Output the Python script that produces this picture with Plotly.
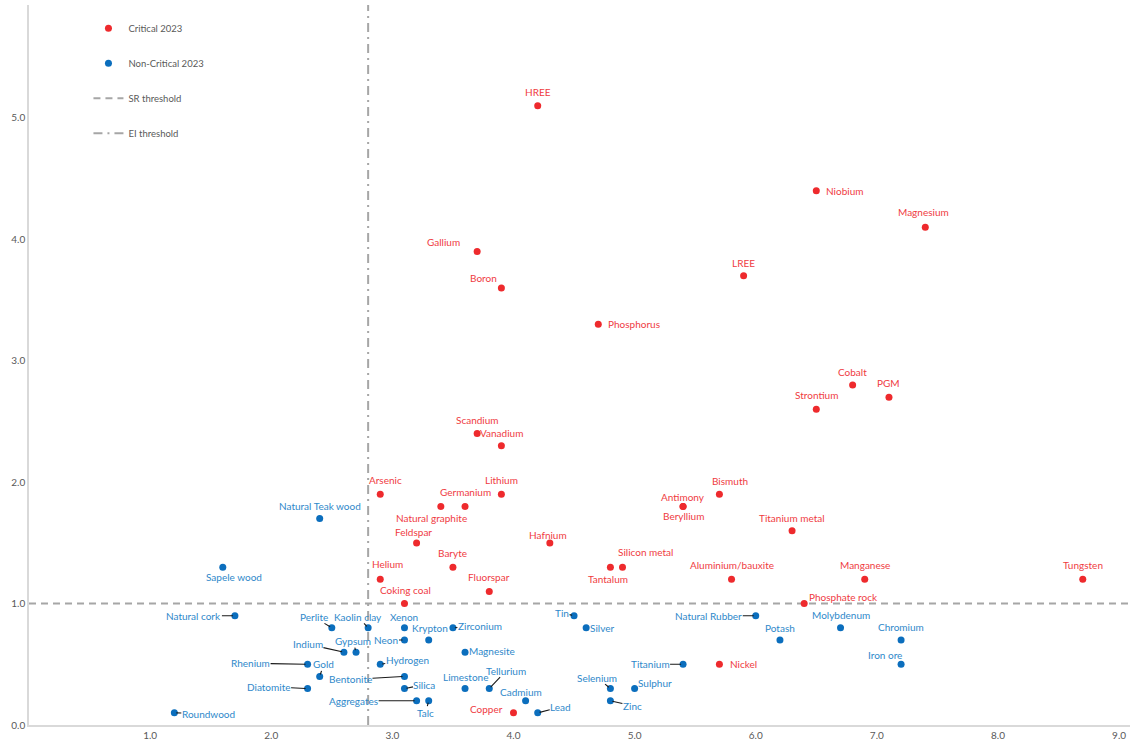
import plotly.graph_objects as go

# ---------------- data ----------------
crit_names = ["HREE", "Niobium", "Magnesium", "Gallium", "LREE", "Boron", "Phosphorus",
              "Cobalt", "PGM", "Strontium", "Scandium", "Vanadium", "Arsenic", "Lithium",
              "Germanium", "Natural graphite", "Bismuth", "Antimony", "Beryllium",
              "Titanium metal", "Feldspar", "Hafnium", "Baryte", "Silicon metal", "Tantalum",
              "Helium", "Aluminium/bauxite", "Manganese", "Tungsten", "Fluorspar",
              "Coking coal", "Phosphate rock", "Nickel", "Copper"]
crit_ei = [4.2, 6.5, 7.4, 3.7, 5.9, 3.9, 4.7,
           6.8, 7.1, 6.5, 3.7, 3.9, 2.9, 3.9,
           3.6, 3.4, 5.7, 5.4, 5.4,
           6.3, 3.2, 4.3, 3.5, 4.9, 4.8,
           2.9, 5.8, 6.9, 8.7, 3.8,
           3.1, 6.4, 5.7, 4.0]
crit_sr = [5.1, 4.4, 4.1, 3.9, 3.7, 3.6, 3.3,
           2.8, 2.7, 2.6, 2.4, 2.3, 1.9, 1.9,
           1.8, 1.8, 1.9, 1.8, 1.8,
           1.6, 1.5, 1.5, 1.3, 1.3, 1.3,
           1.2, 1.2, 1.2, 1.2, 1.1,
           1.0, 1.0, 0.5, 0.1]

non_names = ["Natural Teak wood", "Sapele wood", "Natural cork", "Perlite", "Kaolin clay",
             "Xenon", "Krypton", "Zirconium", "Neon", "Gypsum", "Indium", "Magnesite",
             "Rhenium", "Gold", "Hydrogen", "Bentonite", "Silica", "Diatomite", "Limestone",
             "Tellurium", "Aggregates", "Talc", "Cadmium", "Lead", "Roundwood", "Tin",
             "Silver", "Natural Rubber", "Potash", "Molybdenum", "Chromium", "Iron ore",
             "Titanium", "Selenium", "Sulphur", "Zinc"]
non_ei = [2.4, 1.6, 1.7, 2.5, 2.8,
          3.1, 3.3, 3.5, 3.1, 2.7, 2.6, 3.6,
          2.3, 2.4, 2.9, 3.1, 3.1, 2.3, 3.6,
          3.8, 3.2, 3.3, 4.1, 4.2, 1.2, 4.5,
          4.6, 6.0, 6.2, 6.7, 7.2, 7.2,
          5.4, 4.8, 5.0, 4.8]
non_sr = [1.7, 1.3, 0.9, 0.8, 0.8,
          0.8, 0.7, 0.8, 0.7, 0.6, 0.6, 0.6,
          0.5, 0.4, 0.5, 0.4, 0.3, 0.3, 0.3,
          0.3, 0.2, 0.2, 0.2, 0.1, 0.1, 0.9,
          0.8, 0.9, 0.7, 0.8, 0.7, 0.5,
          0.5, 0.3, 0.3, 0.2]

sr_threshold = 1.0
ei_threshold = 2.8
x_range = [0, 9.09]
y_range = [0, 5.93]
x_ticks = [1, 2, 3, 4, 5, 6, 7, 8, 9]
y_ticks = [0, 1, 2, 3, 4, 5]

# ---------------- label placement (screen px offsets, leader flag) ----------------
label_pos = {
    "HREE": (0, -14, False), "Niobium": (28, 0, False), "Magnesium": (-2, -15, False),
    "Gallium": (-34, -9, False), "LREE": (0, -13, False), "Boron": (-18, -10, False),
    "Phosphorus": (36, 0, False), "Cobalt": (0, -13, False), "PGM": (0, -14, False),
    "Strontium": (0, -14, False), "Scandium": (0, -14, False), "Vanadium": (0, -13, False),
    "Arsenic": (5, -14, False), "Lithium": (0, -14, False), "Germanium": (0, -14, False),
    "Natural graphite": (-9, 12, False), "Bismuth": (11, -13, False),
    "Antimony": (0, -9, False), "Beryllium": (0, 10, False),
    "Titanium metal": (0, -13, False), "Feldspar": (-3, -11, False),
    "Hafnium": (-2, -8, False), "Baryte": (0, -14, False), "Silicon metal": (23, -15, False),
    "Tantalum": (-2, 12, False), "Helium": (7, -15, False),
    "Aluminium/bauxite": (0, -14, False), "Manganese": (0, -14, False),
    "Tungsten": (0, -14, False), "Fluorspar": (0, -14, False), "Coking coal": (1, -14, False),
    "Phosphate rock": (39, -7, False), "Nickel": (24, 0, False), "Copper": (-27, -4, False),
    "Natural Teak wood": (0, -13, False), "Sapele wood": (11, 10, False),
    "Natural cork": (-41, 0, True), "Perlite": (-18, -11, True), "Kaolin clay": (-10, -11, True),
    "Xenon": (0, -11, False), "Krypton": (1, -12, False), "Zirconium": (27, -2, True),
    "Neon": (-18, 0, True), "Gypsum": (-3, -11, True), "Indium": (-36, -8, True),
    "Magnesite": (27, -1, False), "Rhenium": (-57, -1, True), "Gold": (4, -12, True),
    "Hydrogen": (27, -4, True), "Bentonite": (-54, 3, True), "Silica": (20, -4, True),
    "Diatomite": (-39, -2, True), "Limestone": (0, -12, False), "Tellurium": (17, -18, True),
    "Aggregates": (-63, 0, True), "Talc": (-3, 12, True), "Cadmium": (-5, -9, False),
    "Lead": (23, -6, True), "Roundwood": (34, 1, True), "Tin": (-12, -3, True),
    "Silver": (16, 0, False), "Natural Rubber": (-47, 0, True), "Potash": (0, -12, False),
    "Molybdenum": (0, -13, False), "Chromium": (0, -13, False), "Iron ore": (-16, -9, False),
    "Titanium": (-33, 0, True), "Selenium": (-13, -11, True), "Sulphur": (20, -6, False),
    "Zinc": (22, 5, True),
}

RED = "#EE2A2D"
RED_TXT = "#EF3B3F"
BLUE = "#0B6EBD"
BLUE_TXT = "#2E88CA"
GREY = "#A6A6A6"
FONT = "Lato"

fig = go.Figure()
# threshold lines drawn first so that the markers sit on top of them
fig.add_trace(go.Scatter(x=x_range, y=[sr_threshold, sr_threshold], mode="lines",
                         name="SR threshold", legendgroup="c", legendrank=3,
                         line=dict(color=GREY, width=2, dash="7px,5px"), hoverinfo="skip"))
fig.add_trace(go.Scatter(x=[ei_threshold, ei_threshold], y=y_range, mode="lines",
                         name="EI threshold", legendgroup="d", legendrank=4,
                         line=dict(color=GREY, width=2, dash="9px,5px,2px,5px"), hoverinfo="skip"))
fig.add_trace(go.Scatter(x=crit_ei, y=crit_sr, mode="markers", name="Critical 2023",
                         marker=dict(color=RED, size=7), legendgroup="a", legendrank=1,
                         hoverinfo="skip"))
fig.add_trace(go.Scatter(x=non_ei, y=non_sr, mode="markers", name="Non-Critical 2023",
                         marker=dict(color=BLUE, size=7), legendgroup="b", legendrank=2,
                         hoverinfo="skip"))

annotations = []
for names, xs, ys, col in [(crit_names, crit_ei, crit_sr, RED_TXT),
                           (non_names, non_ei, non_sr, BLUE_TXT)]:
    for n, x, y in zip(names, xs, ys):
        dx, dy, leader = label_pos[n]
        if leader:
            annotations.append(dict(x=x, y=y, text=n, showarrow=True, ax=dx, ay=dy,
                                    arrowhead=0, arrowwidth=1.1, arrowcolor="#1a1a1a",
                                    standoff=2, font=dict(color=col, size=10, family=FONT),
                                    borderpad=0))
        else:
            annotations.append(dict(x=x, y=y, text=n, showarrow=False, xshift=dx, yshift=-dy,
                                    font=dict(color=col, size=10, family=FONT)))

fig.update_layout(
    width=1132, height=750,
    margin=dict(l=29, r=2, t=5, b=25, autoexpand=False),
    paper_bgcolor="white", plot_bgcolor="white",
    font=dict(family=FONT, size=10, color="#595959"),
    showlegend=True,
    legend=dict(x=0.054, y=0.988, xanchor="left", yanchor="top",
                tracegroupgap=16, traceorder="grouped",
                font=dict(size=9.5, color="#595959", family=FONT),
                bgcolor="rgba(0,0,0,0)"),
    xaxis=dict(range=x_range, tickvals=x_ticks, tickformat=".1f", showgrid=False,
               zeroline=False, showline=True, linecolor="#D9D9D9", linewidth=2,
               ticks="", automargin=False, tickfont=dict(size=10, color="#595959")),
    yaxis=dict(range=y_range, tickvals=y_ticks, tickformat=".1f", showgrid=False,
               zeroline=False, showline=True, linecolor="#D9D9D9", linewidth=1.5,
               ticks="", automargin=False, tickfont=dict(size=10, color="#595959")),
    annotations=annotations,
)

fig.write_html("out.html", config={"displayModeBar": False},
               post_script="document.body.style.margin='0';document.body.style.overflow='hidden';")
